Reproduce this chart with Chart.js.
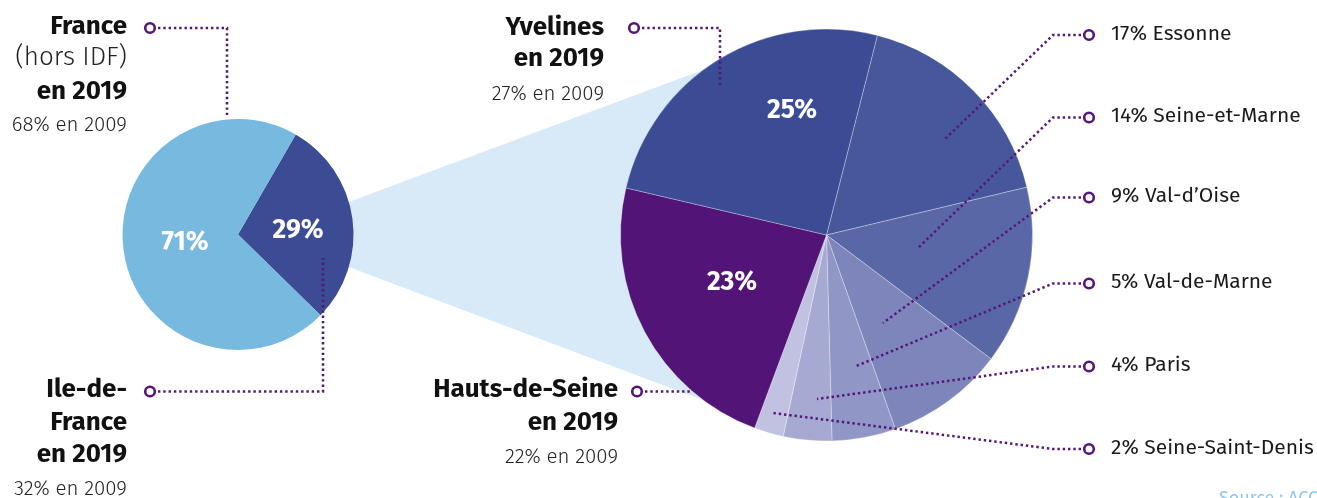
<!DOCTYPE html>
<html><head><meta charset="utf-8">
<script src="https://cdn.jsdelivr.net/npm/chart.js@4/dist/chart.umd.min.js"></script>
<style>
html,body{margin:0;padding:0;background:#fff;overflow:hidden;}
#wrap{position:relative;width:1317px;height:498px;overflow:hidden;font-family:"Fira Sans","Open Sans","Noto Sans",sans-serif;}
canvas{position:absolute;left:0;top:0;}
.t{position:absolute;white-space:nowrap;line-height:1;color:#111;z-index:5;}
.pct{position:absolute;color:#fff;font-weight:700;font-size:26.5px;line-height:1;transform:translate(-50%,-50%);white-space:nowrap;z-index:5;}
</style></head><body><div id="wrap">
<canvas id="cLeft" width="1317" height="498" style="z-index:1"></canvas>
<canvas id="cRight" width="1317" height="498" style="z-index:2"></canvas>
<canvas id="cOver" width="1317" height="498" style="z-index:3"></canvas>
</div>
<script>
// ---------- DATA ----------
const leftCategories = ['Ile-de-France', 'France (hors IDF)'];
const leftValues2019 = [29, 71];
const leftValues2009 = [32, 68];
const rightCategories = ['Essonne', 'Seine-et-Marne', 'Val-d’Oise', 'Val-de-Marne', 'Paris', 'Seine-Saint-Denis', 'Hauts-de-Seine', 'Yvelines'];
const rightValues2019 = [17.3, 14.0, 9.3, 5.0, 3.8, 2.3, 23.0, 25.3];
const rightValues2009 = [null, null, null, null, null, null, 22, 27];
const sourceText = 'Source : ACOSS';

// ---------- STYLE / LAYOUT ----------
const leftColors = ['#3b4b94', '#78b9e0'];
const rightColors = ['#47579c', '#5a67a7', '#7d85ba', '#9096c5', '#a6a9d1', '#c1c2e1', '#521577', '#3b4b94'];
const leaderColor = '#561679';
const bandColor = '#d8e9f7';
const BOLD = 26, LIGHT = 20.5, LIST = 21;

const rightChart = new Chart(document.getElementById('cRight'), {
  type: 'pie',
  data: { labels: rightCategories, datasets: [{ data: rightValues2019, backgroundColor: rightColors, borderColor: 'rgba(255,255,255,0.3)', borderWidth: 1 }] },
  options: {
    responsive: false, animation: false, events: [], rotation: 14.3,
    layout: { padding: { left: 620, right: 284, top: 28.5, bottom: 56.5 } },
    plugins: { legend: { display: false }, tooltip: { enabled: false } }
  }
});

function geom(chart) {
  const a = chart.getDatasetMeta(0).data[0];
  return { x: a.x, y: a.y, r: a.outerRadius };
}
function polar(g, deg, f) {
  const t = deg * Math.PI / 180;
  return [g.x + g.r * (f || 1) * Math.sin(t), g.y - g.r * (f || 1) * Math.cos(t)];
}

const bandPlugin = {
  id: 'band',
  beforeDatasetsDraw(chart) {
    const L = geom(chart), R = geom(rightChart);
    const ctx = chart.ctx;
    const pts = [polar(L, 73.6), polar(R, 323.5), [R.x, R.y], polar(R, 216.5), polar(L, 106.4), [L.x, L.y]];
    ctx.save();
    ctx.fillStyle = bandColor;
    ctx.beginPath();
    pts.forEach((p, i) => i ? ctx.lineTo(p[0], p[1]) : ctx.moveTo(p[0], p[1]));
    ctx.closePath();
    ctx.fill();
    ctx.restore();
  }
};

const leftChart = new Chart(document.getElementById('cLeft'), {
  type: 'pie',
  data: { labels: leftCategories, datasets: [{ data: leftValues2019, backgroundColor: leftColors, borderWidth: 0 }] },
  options: {
    responsive: false, animation: false, events: [], rotation: 30,
    layout: { padding: { left: 122.5, right: 963.5, top: 119, bottom: 148 } },
    plugins: { legend: { display: false }, tooltip: { enabled: false } }
  },
  plugins: [bandPlugin]
});

// ---------- LEADERS ----------
const leaders = [
  [[150, 28], [227, 28], [227, 118]],
  [[150, 391.5], [323, 391.5], [323, 258]],
  [[634, 28], [720, 28], [720, 85]],
  [[637, 391.5], [692, 391.5]],
  [[1089, 35], [1053, 35], [945, 139]],
  [[1089, 117.5], [1053, 117.5], [918, 248]],
  [[1089, 197.5], [1053, 197.5], [883, 323]],
  [[1089, 283.5], [1053, 283.5], [854, 367]],
  [[1089, 366.5], [1053, 366.5], [817, 399]],
  [[1089, 449], [1053, 449], [773, 413]]
];
(function drawLeaders() {
  const ctx = document.getElementById('cOver').getContext('2d');
  ctx.strokeStyle = leaderColor;
  leaders.forEach(pl => {
    const [cx, cy] = pl[0];
    const dir = Math.sign(pl[1][0] - cx);
    ctx.save();
    ctx.lineWidth = 2.5;
    ctx.setLineDash([2.4, 2.9]);
    ctx.beginPath();
    ctx.moveTo(cx + dir * 8, cy);
    for (let i = 1; i < pl.length; i++) ctx.lineTo(pl[i][0], pl[i][1]);
    ctx.stroke();
    ctx.setLineDash([]);
    ctx.beginPath();
    ctx.arc(cx, cy, 4.8, 0, Math.PI * 2);
    ctx.fillStyle = '#fff';
    ctx.fill();
    ctx.lineWidth = 2.6;
    ctx.stroke();
    ctx.restore();
  });
})();

// ---------- TEXT ----------
const wrap = document.getElementById('wrap');
function txt(s, x, baseline, size, weight, align, color) {
  const d = document.createElement('div');
  d.className = 't';
  d.textContent = s;
  d.style.fontSize = size + 'px';
  d.style.fontWeight = weight;
  d.style.top = (baseline - 0.85 * size) + 'px';
  if (color) d.style.color = color;
  if (align === 'right') d.style.right = (1317 - x) + 'px'; else d.style.left = x + 'px';
  wrap.appendChild(d);
}
const pctTxt = v => Math.round(v) + '%';
// left blocks
txt('France', 127, 35, BOLD, 700, 'right');
txt('(hors IDF)', 127, 66, BOLD, 300, 'right', '#222');
txt('en 2019', 127, 100, BOLD, 700, 'right');
txt(pctTxt(leftValues2009[1]) + ' en 2009', 127, 131.5, LIGHT, 300, 'right', '#222');
txt('Ile-de-', 127, 398, BOLD, 700, 'right');
txt('France', 127, 431.5, BOLD, 700, 'right');
txt('en 2019', 127, 463.5, BOLD, 700, 'right');
txt(pctTxt(leftValues2009[0]) + ' en 2009', 127, 495, LIGHT, 300, 'right', '#222');
// Yvelines / Hauts-de-Seine
txt(rightCategories[7], 604, 36, BOLD, 700, 'right');
txt('en 2019', 604, 67, BOLD, 700, 'right');
txt(pctTxt(rightValues2009[7]) + ' en 2009', 604, 100, LIGHT, 300, 'right', '#222');
txt(rightCategories[6], 618, 398, BOLD, 700, 'right');
txt('en 2019', 618, 431.5, BOLD, 700, 'right');
txt(pctTxt(rightValues2009[6]) + ' en 2009', 618, 463.5, LIGHT, 300, 'right', '#222');
// right list
const listOrder = [0, 1, 2, 3, 4, 5];
const listBase = [40.5, 123, 203, 289, 372, 454.5];
listOrder.forEach((k, i) => txt(pctTxt(rightValues2019[k]) + ' ' + rightCategories[k], 1111, listBase[i], LIST, 400, 'left', '#1a1a1a'));
txt(sourceText, 1219, 504, 18, 400, 'left', '#8fc8ec');

// in-slice percentages (offsets from pie centre)
function pct(chart, val, dx, dy) {
  const g = geom(chart);
  const d = document.createElement('div');
  d.className = 'pct';
  d.textContent = pctTxt(val);
  d.style.left = (g.x + dx) + 'px';
  d.style.top = (g.y + dy) + 'px';
  wrap.appendChild(d);
}
pct(leftChart, leftValues2019[1], -53, 6.5);
pct(leftChart, leftValues2019[0], 60, -5.5);
pct(rightChart, rightValues2019[7], -34.5, -126);
pct(rightChart, rightValues2019[6], -94.5, 46);
</script></body></html>
